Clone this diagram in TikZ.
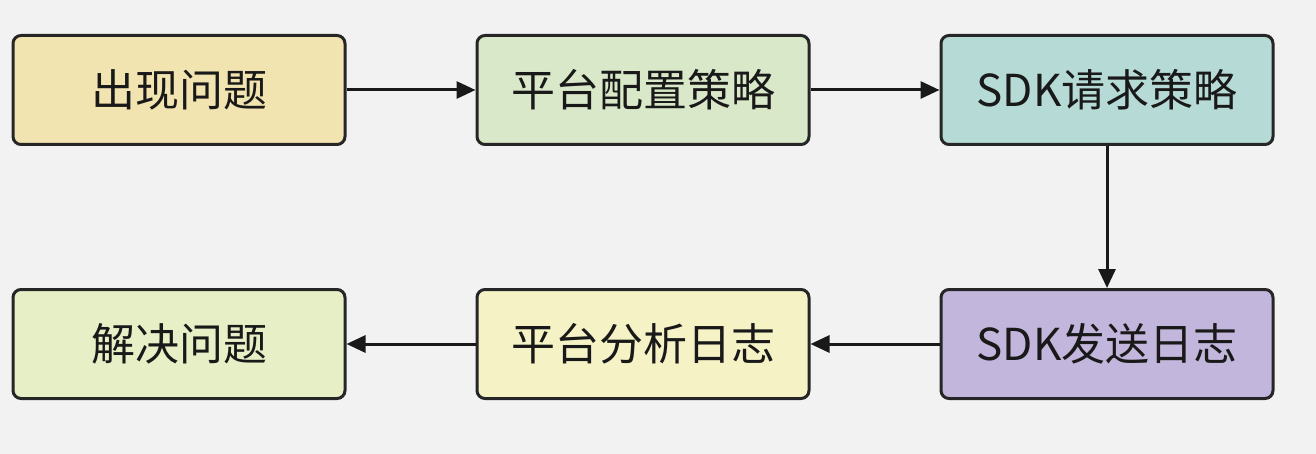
\documentclass[tikz,border=0pt]{standalone}
\usepackage{fontspec}
\newfontfamily\cjk{Noto Sans CJK SC}
\usetikzlibrary{arrows.meta}
\definecolor{bg}{HTML}{F2F2F2}
\definecolor{cA}{HTML}{F2E4B0}
\definecolor{cB}{HTML}{D9E8C8}
\definecolor{cC}{HTML}{B6DAD5}
\definecolor{cD}{HTML}{C3B6DC}
\definecolor{cE}{HTML}{F5F3C6}
\definecolor{cF}{HTML}{E7EFC6}
\tikzset{
  flowbox/.style={draw=black!85, line width=3pt, rounded corners=8pt,
    minimum width=332pt, minimum height=109pt, inner sep=0pt,
    font=\cjk\fontsize{44}{50}\selectfont, text=black!90},
  conn/.style={line width=3pt, draw=black!90, -{Triangle[length=19pt,width=17pt]}}
}
\begin{document}
\begin{tikzpicture}[x=1pt,y=-1pt]
\fill[bg] (0,0) rectangle (1316,454);
\useasboundingbox (0,0) rectangle (1316,454);
\node[flowbox, fill=cA] (a) at (179,90) {出现问题};
\node[flowbox, fill=cB] (b) at (643,90) {平台配置策略};
\node[flowbox, fill=cC] (c) at (1107,90) {SDK请求策略};
\node[flowbox, fill=cD] (d) at (1107,344) {SDK发送日志};
\node[flowbox, fill=cE] (e) at (643,344) {平台分析日志};
\node[flowbox, fill=cF] (f) at (179,344) {解决问题};
\draw[conn] (a) -- (b);
\draw[conn] (b) -- (c);
\draw[conn] (c) -- (d);
\draw[conn] (d) -- (e);
\draw[conn] (e) -- (f);
\end{tikzpicture}
\end{document}
